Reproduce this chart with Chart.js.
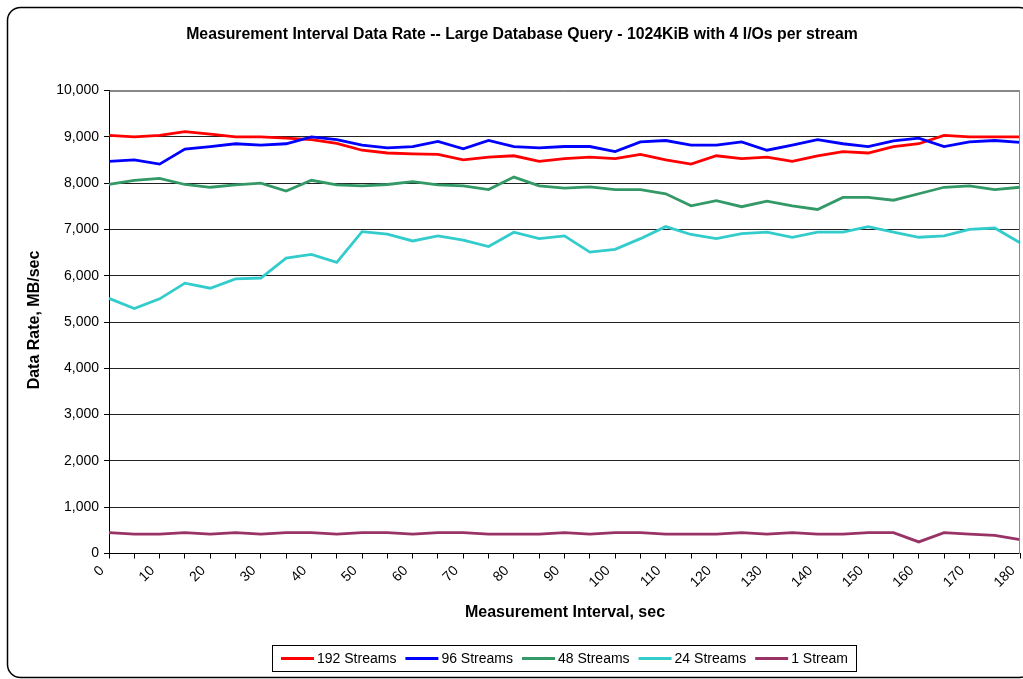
<!DOCTYPE html>
<html>
<head>
<meta charset="utf-8">
<title>Measurement Interval Data Rate</title>
<script src="https://cdn.jsdelivr.net/npm/chart.js@4.4.1/dist/chart.umd.min.js"></script>
<style>
  html, body { margin: 0; padding: 0; background: #fff; }
  #wrap { width: 1023px; height: 679px; }
</style>
</head>
<body>
<div id="wrap"><canvas id="chart-rate" width="1023" height="679"></canvas></div>
<script>
// measurement interval, sec (one sample every 5 sec)
var intervals = ["0", "5", "10", "15", "20", "25", "30", "35", "40", "45", "50", "55", "60",
  "65", "70", "75", "80", "85", "90", "95", "100", "105", "110", "115", "120", "125", "130",
  "135", "140", "145", "150", "155", "160", "165", "170", "175", "180"];

// data rate, MB/sec
var streams192 = [9030, 9000, 9030, 9110, 9060, 9000, 9000, 8970, 8940, 8860, 8710, 8650, 8630,
  8620, 8500, 8560, 8590, 8470, 8530, 8560, 8530, 8620, 8500, 8410, 8590, 8530, 8560,
  8470, 8590, 8680, 8650, 8790, 8850, 9030, 9000, 9000, 9000];
var streams96 = [8470, 8500, 8410, 8735, 8790, 8850, 8820, 8850, 9000, 8940, 8820, 8760, 8790,
  8900, 8740, 8920, 8790, 8760, 8790, 8790, 8680, 8890, 8920, 8820, 8820, 8890, 8710,
  8820, 8940, 8850, 8790, 8910, 8970, 8790, 8890, 8920, 8880];
var streams48 = [7970, 8060, 8100, 7970, 7910, 7960, 8000, 7830, 8060, 7960, 7940, 7970, 8030,
  7960, 7940, 7860, 8130, 7940, 7890, 7920, 7860, 7860, 7770, 7510, 7620, 7490, 7610,
  7510, 7430, 7690, 7690, 7630, 7770, 7910, 7940, 7860, 7910];
var streams24 = [5510, 5290, 5500, 5840, 5730, 5930, 5950, 6380, 6460, 6290, 6950, 6900, 6750,
  6860, 6770, 6630, 6940, 6800, 6860, 6510, 6570, 6800, 7060, 6890, 6800, 6910, 6940,
  6830, 6940, 6940, 7060, 6940, 6830, 6860, 7000, 7030, 6710];
var streams1 = [450, 420, 420, 450, 420, 450, 420, 450, 450, 420, 450, 450, 420,
  450, 450, 420, 420, 420, 450, 420, 450, 450, 420, 420, 420, 450, 420,
  450, 420, 420, 450, 450, 250, 450, 420, 390, 300];

var yTicks = [0, 1000, 2000, 3000, 4000, 5000, 6000, 7000, 8000, 9000, 10000];

var FONT = "'Liberation Sans', Arial, sans-serif";
var chartTitle = "Measurement Interval Data Rate -- Large Database Query - 1024KiB with 4 I/Os per stream";

function series(label, data, color, order) {
  return {
    label: label,
    data: data,
    borderColor: color,
    backgroundColor: color,
    borderWidth: 2.8,
    pointRadius: 0,
    tension: 0,
    fill: false,
    order: order
  };
}

// frame, titles, plot border and boxed legend, drawn the way the spreadsheet does it
var sheetFrame = {
  id: "sheetFrame",
  beforeDraw: function (chart) {
    var c = chart.ctx;
    c.save();
    c.fillStyle = "#fff";
    c.fillRect(0, 0, chart.width, chart.height);
    c.strokeStyle = "#000";
    c.lineWidth = 1.5;
    c.beginPath();
    c.roundRect(7.5, 7.5, 1025, 670, 13);
    c.stroke();
    c.restore();
  },
  afterDraw: function (chart) {
    var c = chart.ctx;
    var a = chart.chartArea;
    c.save();

    // plot area border (top and right)
    c.strokeStyle = "#888";
    c.lineWidth = 1;
    c.beginPath();
    c.moveTo(Math.round(a.left) + 0.5, Math.round(a.top) + 0.5);
    c.lineTo(Math.round(a.right) - 0.5, Math.round(a.top) + 0.5);
    c.lineTo(Math.round(a.right) - 0.5, Math.round(a.bottom));
    c.stroke();

    c.fillStyle = "#000";
    c.textAlign = "center";
    c.textBaseline = "middle";
    c.font = "bold 15.8px " + FONT;
    c.fillText(chartTitle, 522, 35);

    c.font = "bold 16px " + FONT;
    c.fillText("Measurement Interval, sec", 565, 613);

    c.save();
    c.translate(35, 320);
    c.rotate(-Math.PI / 2);
    c.fillText("Data Rate, MB/sec", 0, 0);
    c.restore();

    // legend
    c.font = "14px " + FONT;
    var sets = chart.data.datasets;
    var lineLen = 33, gapText = 3, gapItem = 9;
    var widths = sets.map(function (d) { return c.measureText(d.label).width; });
    var total = 0;
    widths.forEach(function (w, i) { total += lineLen + gapText + w + (i ? gapItem : 0); });
    var boxL = 272.5, boxR = 856.5, boxT = 645.5, boxB = 671.5;
    c.strokeStyle = "#000";
    c.lineWidth = 1;
    c.strokeRect(boxL, boxT, boxR - boxL, boxB - boxT);
    var x = (boxL + boxR) / 2 - total / 2;
    var cy = (boxT + boxB) / 2;
    c.textAlign = "left";
    sets.forEach(function (d, i) {
      c.strokeStyle = d.borderColor;
      c.lineWidth = 3;
      c.beginPath();
      c.moveTo(x, cy);
      c.lineTo(x + lineLen, cy);
      c.stroke();
      c.fillStyle = "#000";
      c.fillText(d.label, x + lineLen + gapText, cy + 1);
      x += lineLen + gapText + widths[i] + gapItem;
    });
    c.restore();
  }
};

new Chart(document.getElementById("chart-rate").getContext("2d"), {
  type: "line",
  data: {
    labels: intervals,
    datasets: [
      series("192 Streams", streams192, "#ff0000", 5),
      series("96 Streams", streams96, "#0000ff", 4),
      series("48 Streams", streams48, "#339966", 3),
      series("24 Streams", streams24, "#33cccc", 2),
      series("1 Stream", streams1, "#993366", 1)
    ]
  },
  options: {
    responsive: false,
    animation: false,
    devicePixelRatio: 1,
    layout: { padding: { top: 90.5, right: 3, bottom: 0, left: 0 } },
    plugins: {
      legend: { display: false },
      title: { display: false },
      tooltip: { enabled: false }
    },
    scales: {
      x: {
        type: "category",
        offset: false,
        border: { display: true, color: "#000", width: 1 },
        grid: {
          display: true,
          drawOnChartArea: false,
          drawTicks: true,
          tickLength: 5,
          color: "#000"
        },
        ticks: {
          autoSkip: false,
          minRotation: 45,
          maxRotation: 45,
          padding: 4,
          labelOffset: -7,
          color: "#000",
          font: { family: FONT, size: 14 },
          callback: function (val, idx) {
            return idx % 2 === 0 ? this.getLabelForValue(val) : "";
          }
        },
        afterFit: function (scale) {
          scale.height = 125.5;
          scale.paddingRight = 0;
          scale.paddingLeft = 0;
        }
      },
      y: {
        min: 0,
        max: 10000,
        border: { display: true, color: "#000", width: 1 },
        grid: {
          color: function (ctx) { return ctx.tick && ctx.tick.value === 10000 ? "#888" : "#222"; },
          tickColor: "#000",
          lineWidth: 1,
          tickLength: 5
        },
        afterBuildTicks: function (scale) {
          scale.ticks = yTicks.map(function (v) { return { value: v }; });
        },
        ticks: {
          padding: 5,
          color: "#000",
          font: { family: FONT, size: 14 },
          callback: function (v) { return v.toLocaleString("en-US"); }
        },
        afterFit: function (scale) {
          scale.width = 109;
        }
      }
    }
  },
  plugins: [sheetFrame]
});
</script>
</body>
</html>
